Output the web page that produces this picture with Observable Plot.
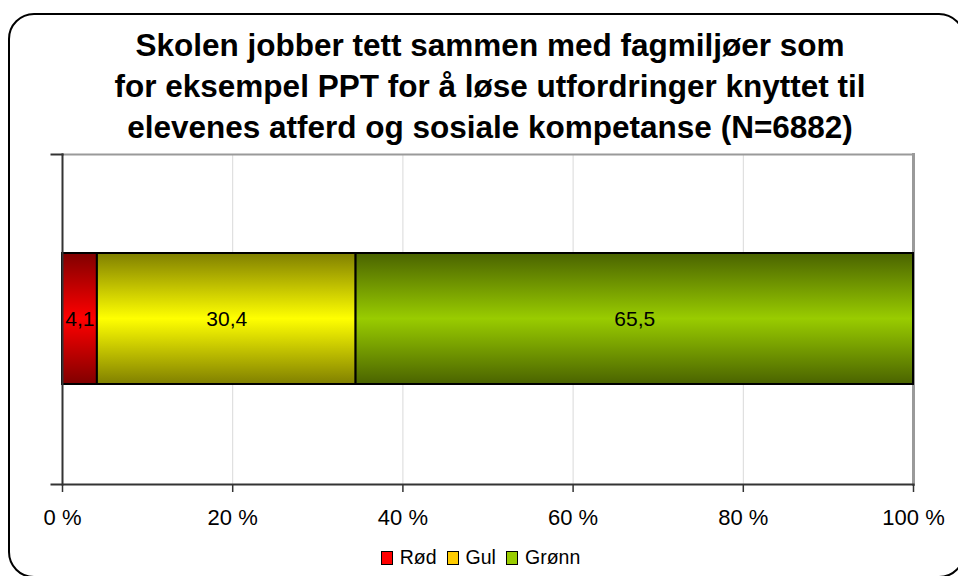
<!DOCTYPE html>
<html>
<head>
<meta charset="utf-8">
<script src="https://cdn.jsdelivr.net/npm/d3@7"></script>
<script src="https://cdn.jsdelivr.net/npm/@observablehq/plot@0.6"></script>
<style>
  html, body { margin: 0; padding: 0; background: #fff; }
  #wrap { position: relative; width: 958px; height: 576px; overflow: hidden; font-family: "Liberation Sans", Arial, sans-serif; }
  #frame { position: absolute; left: 8px; top: 13px; width: 957px; height: 565px; box-sizing: border-box; border: 2px solid #000; border-radius: 26px; }
  #title { position: absolute; left: 0; top: 25px; width: 980px; text-align: center; font-weight: bold; font-size: 31.5px; line-height: 41px; color: #000; }
  #chart { position: absolute; left: 0; top: 0; }
  #legend { position: absolute; left: 0; top: 546px; width: 961px; display: flex; justify-content: center; align-items: center; font-size: 19.5px; color: #000; }
  #legend .item { display: flex; align-items: center; margin: 0 5px; }
  #legend .sw { width: 10px; height: 12px; border: 1px solid #000; margin-right: 7px; }
</style>
</head>
<body>
<div id="wrap">
  <div id="frame"></div>
  <div id="chart"></div>
  <div id="title">Skolen jobber tett sammen med fagmiljøer som<br>for eksempel PPT for å løse utfordringer knyttet til<br>elevenes atferd og sosiale kompetanse (N=6882)</div>
  <div id="legend"></div>
</div>
<script>
// ---- data ----
const categories = ["Rød", "Gul", "Grønn"];
const values = [4.1, 30.4, 65.5];
const rowLabel = [""];
const xTicks = [0, 20, 40, 60, 80, 100];

// ---- styles ----
const brightColors = ["#ff0000", "#ffff00", "#99cc00"];
const darkColors = ["#800000", "#808000", "#4a6300"];
const legendColors = ["#ff0000", "#ffcc00", "#99cc00"];

const W = 958, H = 576;
const mL = 62, mR = 45, mT = 154, mB = 92;
const plotW = W - mL - mR;

const data = categories.map((c, i) => ({
  series: c, value: values[i], row: rowLabel[0], grad: `url(#grad${i})`
}));

const fmt = v => d3.format(".1f")(v).replace(".", ",");

const chart = Plot.plot({
  width: W, height: H,
  marginLeft: mL, marginRight: mR, marginTop: mT, marginBottom: mB,
  style: { background: "transparent", fontFamily: "'Liberation Sans', Arial, sans-serif", color: "#000" },
  x: { domain: [0, 100], axis: null, label: null },
  y: { domain: rowLabel, padding: 0.4286, axis: null, label: null },
  color: { type: "identity" },
  marks: [
    Plot.gridX(xTicks.slice(1, -1), { stroke: "#d9d9d9", strokeOpacity: 1, strokeWidth: 1 }),
    Plot.frame({ anchor: "top", stroke: "#9a9a9a", strokeWidth: 2 }),
    Plot.frame({ anchor: "right", stroke: "#9a9a9a", strokeWidth: 3 }),
    Plot.barX(data, Plot.stackX({ x: "value", y: "row", z: "series", fill: "grad", stroke: "#000", strokeWidth: 2 })),
    Plot.text(data, Plot.stackX({ x: "value", y: "row", z: "series", text: d => fmt(d.value), fontSize: 21, fill: "#000" })),
    Plot.frame({ anchor: "left", stroke: "#333", strokeWidth: 2 }),
    Plot.frame({ anchor: "bottom", stroke: "#333", strokeWidth: 2, insetLeft: -11 }),
    Plot.frame({ anchor: "top", stroke: "#333", strokeWidth: 2, insetLeft: -11, insetRight: plotW }),
    Plot.axisX({ ticks: xTicks, tickSize: 8, tickPadding: 17, tickFormat: d => d + " %", fontSize: 22, stroke: "#333", strokeWidth: 1.5, fill: "#000", label: null })
  ]
});

// gradient definitions
const svg = d3.select(chart);
const defs = svg.insert("defs", ":first-child");
brightColors.forEach((b, i) => {
  const g = defs.append("linearGradient").attr("id", `grad${i}`)
    .attr("x1", 0).attr("y1", 0).attr("x2", 0).attr("y2", 1);
  g.append("stop").attr("offset", "0%").attr("stop-color", darkColors[i]);
  g.append("stop").attr("offset", "50%").attr("stop-color", b);
  g.append("stop").attr("offset", "100%").attr("stop-color", darkColors[i]);
});

document.getElementById("chart").appendChild(chart);

// legend
const legend = d3.select("#legend");
categories.forEach((c, i) => {
  const it = legend.append("div").attr("class", "item");
  it.append("div").attr("class", "sw").style("background", legendColors[i]);
  it.append("span").text(c);
});
</script>
</body>
</html>
